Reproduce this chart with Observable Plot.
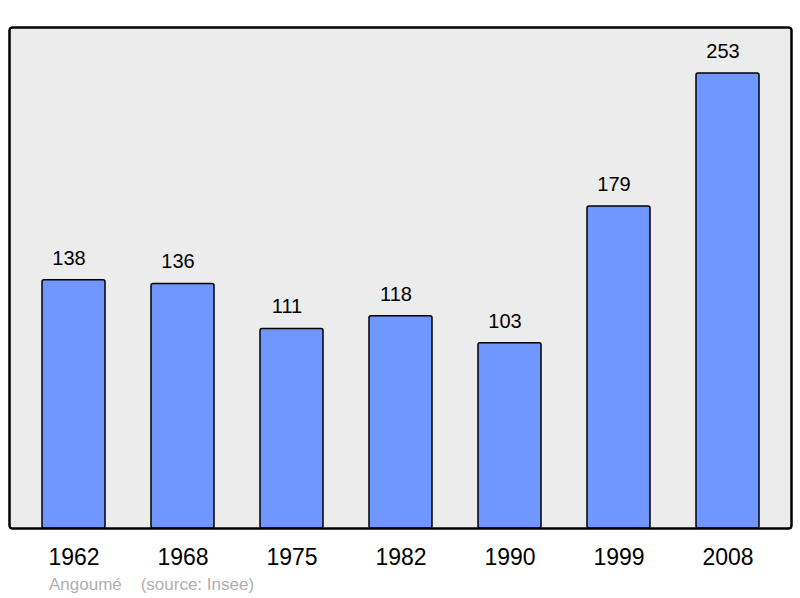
<!DOCTYPE html>
<html><head><meta charset="utf-8">
<script src="https://cdn.jsdelivr.net/npm/d3@7"></script>
<script src="https://cdn.jsdelivr.net/npm/@observablehq/plot@0.6"></script>
<style>
body{margin:0;background:#fff;font-family:"Liberation Sans",Arial,sans-serif;}
#wrap{position:relative;width:800px;height:598px;}
#cap{position:absolute;left:49px;top:575px;font-size:17px;color:#b0b0b0;white-space:pre;}
</style></head>
<body><div id="wrap"><div id="cap"></div></div>
<script>
const years = ["1962","1968","1975","1982","1990","1999","2008"];
const population = [138,136,111,118,103,179,253];
const captionText = "Angoumé    (source: Insee)";
const data = years.map((y,i)=>({year:y, pop:population[i]}));
const chart = Plot.plot({
  width:800, height:598,
  marginLeft:9, marginRight:9, marginTop:27, marginBottom:70,
  style:{fontFamily:"Liberation Sans, Arial, sans-serif", background:"transparent"},
  x:{domain:years, range:[41.5,760.5], paddingInner:0.42, paddingOuter:0, label:null},
  y:{domain:[0,278.6], range:[528,27], axis:null},
  marks:[
    Plot.frame({fill:"#ececec", stroke:"#000", strokeWidth:2, rx:3}),
    Plot.barY(data,{x:"year", y:"pop", fill:"#7096ff", stroke:"#000", strokeWidth:1.5, rx:2}),
    Plot.text(data,{x:"year", y:"pop", text:d=>String(d.pop), dy:-22, dx:-5, fontSize:20, fill:"#000"}),
    Plot.axisX({tickSize:0, tickPadding:20, fontSize:23, fill:"#000", stroke:null, label:null}),
    Plot.frame({stroke:"#000", strokeWidth:2, rx:3})
  ]
});
document.getElementById("wrap").prepend(chart);
document.getElementById("cap").textContent = captionText;
</script></body></html>
